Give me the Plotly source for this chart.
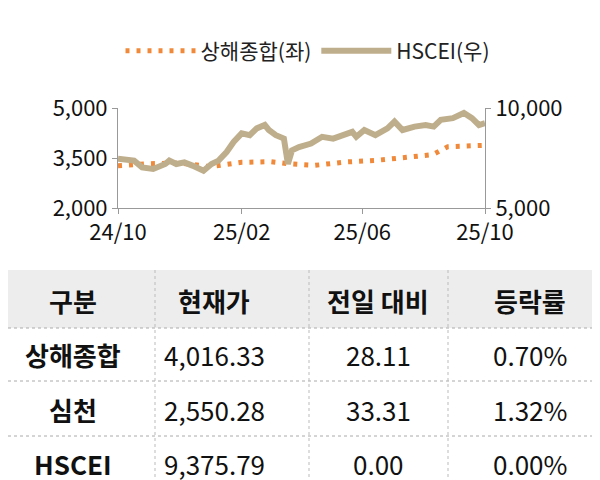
import plotly.graph_objects as go

hs_dates = ["2024-10-01","2024-10-17","2024-10-25","2024-11-05","2024-11-17","2024-11-21","2024-11-28","2024-12-06","2024-12-14","2024-12-21","2024-12-25","2025-01-02","2025-01-09","2025-01-17","2025-01-24","2025-02-01","2025-02-09","2025-02-16","2025-02-24","2025-02-28","2025-03-07","2025-03-15","2025-03-19","2025-03-23","2025-03-30","2025-04-11","2025-04-22","2025-05-03","2025-05-15","2025-05-22","2025-05-26","2025-06-03","2025-06-14","2025-06-26","2025-07-03","2025-07-11","2025-07-23","2025-08-03","2025-08-11","2025-08-18","2025-08-30","2025-09-04","2025-09-10","2025-09-18","2025-09-25","2025-10-01"]
hs_vals = [7460,7370,7030,6950,7200,7370,7200,7280,7120,6950,6860,7200,7370,7800,8300,8730,8640,8980,9150,8900,8640,8470,7200,7880,8050,8220,8560,8470,8640,8810,8560,8900,8640,8980,9320,8900,9070,9150,9070,9410,9490,9580,9750,9490,9150,9240]
sh_dates = ["2024-10-01","2024-11-01","2024-12-01","2025-01-01","2025-02-01","2025-03-01","2025-03-19","2025-04-15","2025-05-15","2025-06-15","2025-07-15","2025-08-10","2025-08-25","2025-09-15","2025-10-01"]
sh_vals = [3270,3330,3350,3240,3370,3390,3330,3280,3380,3430,3520,3600,3840,3860,3880]

col_headers = ["구분", "현재가", "전일 대비", "등락률"]
row_names = ["상해종합", "심천", "HSCEI"]
cur_price = ["4,016.33", "2,550.28", "9,375.79"]
day_change = ["28.11", "33.31", "0.00"]
pct_change = ["0.70%", "1.32%", "0.00%"]

FONT = "Noto Sans CJK KR"
fig = go.Figure()
fig.add_trace(go.Scatter(x=sh_dates, y=sh_vals, name="상해종합(좌)", mode="lines",
                         line=dict(color="#f08a3a", width=5, dash="4px,7px")))
fig.add_trace(go.Scatter(x=hs_dates, y=hs_vals, name="HSCEI(우)", mode="lines", yaxis="y2",
                         line=dict(color="#bfae8c", width=6)))

W, H = 600, 480
def px(x): return x / W
def py(y): return 1 - y / H

axcommon = dict(showgrid=False, showline=True, linecolor="#999", ticks="outside",
                tickcolor="#999", ticklen=5, automargin=False,
                tickfont=dict(size=22, color="#111", family=FONT))
fig.update_layout(
    width=W, height=H, margin=dict(l=0, r=0, t=0, b=0, autoexpand=False),
    paper_bgcolor="white", plot_bgcolor="white",
    font=dict(family=FONT),
    xaxis=dict(domain=[px(110), px(477)], range=["2024-10-01", "2025-10-01"],
               tickvals=["2024-10-01", "2025-02-01", "2025-06-01", "2025-10-01"],
               ticktext=["24/10", "25/02", "25/06", "25/10"], anchor="y", **axcommon),
    yaxis=dict(domain=[py(200), py(100)], range=[2000, 5000], tickvals=[2000, 3500, 5000],
               tickformat=",", **axcommon),
    yaxis2=dict(overlaying="y", side="right", anchor="x", range=[5000, 10000],
                tickvals=[5000, 10000], tickformat=",", **axcommon),
    legend=dict(orientation="h", x=0.5, xanchor="center", y=py(43), yanchor="middle",
                font=dict(size=21, color="#222", family=FONT), itemwidth=70),
    showlegend=True,
)

shapes = [dict(type="rect", xref="paper", yref="paper", x0=0, x1=1, y0=py(320), y1=py(262),
               fillcolor="#ededed", line=dict(width=0), layer="below")]
for yl in [320, 373, 428]:
    shapes.append(dict(type="line", xref="paper", yref="paper", x0=0, x1=1, y0=py(yl), y1=py(yl),
                       line=dict(color="#aaa", width=1, dash="dot")))
for xl in [147, 301, 440]:
    shapes.append(dict(type="line", xref="paper", yref="paper", x0=px(xl), x1=px(xl), y0=py(262), y1=py(480),
                       line=dict(color="#bbb", width=1, dash="dot")))
fig.update_layout(shapes=shapes)

col_x = [65, 206, 370, 522]
row_y = [292, 346, 401, 455]
ann = []
for c, t in enumerate(col_headers):
    ann.append(dict(x=px(col_x[c]), y=py(row_y[0]), text="<b>%s</b>" % t))
cols = [["<b>%s</b>" % r for r in row_names], cur_price, day_change, pct_change]
for c, vals in enumerate(cols):
    for r, v in enumerate(vals):
        ann.append(dict(x=px(col_x[c]), y=py(row_y[r + 1]), text=v))
for a in ann:
    a.update(xref="paper", yref="paper", showarrow=False, xanchor="center", yanchor="middle",
             font=dict(size=26, color="#111", family=FONT))
fig.update_layout(annotations=ann)

fig.write_html("out.html")
